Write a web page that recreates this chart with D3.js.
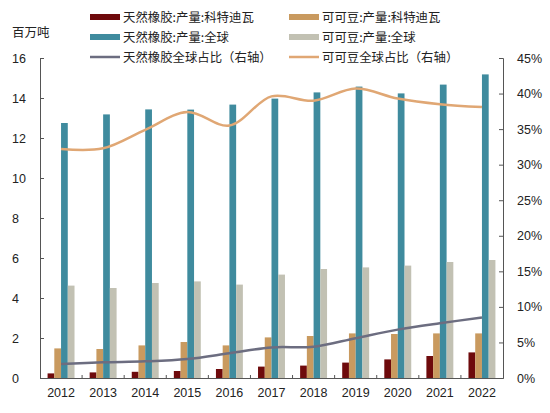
<!DOCTYPE html>
<html>
<head>
<meta charset="utf-8">
<script src="https://cdn.jsdelivr.net/npm/d3@7"></script>
<style>
  body { margin: 0; background: #fff; }
  text { font-family: "Liberation Sans", Arial, "Noto Sans CJK SC", sans-serif; }
</style>
</head>
<body>
<div id="chart"></div>
<script>
// data
var years = ["2012", "2013", "2014", "2015", "2016", "2017", "2018", "2019", "2020", "2021", "2022"];
var rubberCI = [0.23, 0.28, 0.31, 0.35, 0.45, 0.57, 0.62, 0.77, 0.93, 1.1, 1.28];
var cocoaCI = [1.48, 1.45, 1.63, 1.8, 1.63, 2.03, 2.1, 2.23, 2.2, 2.23, 2.23];
var rubberWorld = [12.75, 13.18, 13.43, 13.42, 13.67, 13.97, 14.28, 14.57, 14.23, 14.67, 15.18];
var cocoaWorld = [4.62, 4.5, 4.75, 4.83, 4.67, 5.17, 5.45, 5.53, 5.62, 5.8, 5.9];
var rubberShare = [1.97, 2.2, 2.34, 2.67, 3.47, 4.3, 4.4, 5.6, 6.8, 7.7, 8.5];
var cocoaShare = [32.2, 32.3, 34.9, 37.4, 35.5, 39.6, 39.0, 40.7, 39.3, 38.5, 38.1];
var leftTicks = [0, 2, 4, 6, 8, 10, 12, 14, 16];
var rightTicks = [0, 5, 10, 15, 20, 25, 30, 35, 40, 45];

var barSeries = [
    {name: "天然橡胶:产量:科特迪瓦", values: rubberCI, color: "#6e0a0c"},
    {name: "可可豆:产量:科特迪瓦", values: cocoaCI, color: "#c99a5f"},
    {name: "天然橡胶:产量:全球", values: rubberWorld, color: "#3f8b9e"},
    {name: "可可豆:产量:全球", values: cocoaWorld, color: "#c2c1b3"}
];
var lineSeries = [
    {name: "天然橡胶全球占比（右轴）", values: rubberShare, color: "#6c6d80"},
    {name: "可可豆全球占比（右轴）", values: cocoaShare, color: "#e0a774"}
];

drawChart();

function drawChart() {
    var width = 550, height = 413;
    var plotLeft = 40, plotRight = 503, plotTop = 58, plotBottom = 378;

    var svg = d3.select("#chart")
        .append("svg")
        .attr("width", width)
        .attr("height", height);

    var x = d3.scaleBand()
        .domain(years)
        .range([plotLeft, plotRight])
        .paddingInner(0.36)
        .paddingOuter(0.18);

    var xSub = d3.scaleBand()
        .domain(d3.range(barSeries.length))
        .range([0, x.bandwidth()]);

    var yLeft = d3.scaleLinear().domain([0, 16]).range([plotBottom, plotTop]);
    var yRight = d3.scaleLinear().domain([0, 45]).range([plotBottom, plotTop]);

    var step = x.step();
    function center(d) { return x(d) + x.bandwidth() / 2; }

    // bars
    barSeries.forEach(function (s, si) {
        svg.selectAll(".bar" + si)
            .data(s.values)
            .enter()
            .append("rect")
            .attr("x", function (d, i) { return x(years[i]) + xSub(si); })
            .attr("y", function (d) { return yLeft(d); })
            .attr("width", xSub.bandwidth())
            .attr("height", function (d) { return plotBottom - yLeft(d); })
            .attr("fill", s.color);
    });

    // lines
    lineSeries.forEach(function (s) {
        var line = d3.line()
            .x(function (d, i) { return center(years[i]); })
            .y(function (d) { return yRight(d); })
            .curve(d3.curveCatmullRom.alpha(0.5));
        svg.append("path")
            .datum(s.values)
            .attr("d", line)
            .attr("fill", "none")
            .attr("stroke", s.color)
            .attr("stroke-width", 2.5);
    });

    // axes
    var axisColor = "#555";
    var leftAxis = svg.append("g")
        .attr("transform", "translate(" + plotLeft + ",0)")
        .call(d3.axisLeft(yLeft).tickValues(leftTicks).tickSize(-4).tickPadding(18));
    var rightAxis = svg.append("g")
        .attr("transform", "translate(" + plotRight + ",0)")
        .call(d3.axisRight(yRight).tickValues(rightTicks).tickSize(-4).tickPadding(14)
            .tickFormat(function (d) { return d + "%"; }));
    [leftAxis, rightAxis].forEach(function (g) {
        g.select(".domain").attr("stroke", axisColor);
        g.selectAll(".tick line").attr("stroke", axisColor);
        g.selectAll(".tick text").attr("fill", "#222").style("font-size", "12.5px")
            .attr("font-family", "Liberation Sans, Arial, sans-serif");
    });
    leftAxis.selectAll(".tick text").attr("text-anchor", "start").attr("x", -28);

    var xAxis = svg.append("g")
        .attr("transform", "translate(0," + plotBottom + ")")
        .call(d3.axisBottom(x).tickSize(0).tickPadding(10));
    xAxis.select(".domain").attr("stroke", axisColor);
    xAxis.selectAll(".tick text").attr("fill", "#222").style("font-size", "12.5px")
        .attr("font-family", "Liberation Sans, Arial, sans-serif");
    // small separators between years
    svg.selectAll(".sep")
        .data(years.slice(1))
        .enter()
        .append("line")
        .attr("x1", function (d) { return x(d) - (step - x.bandwidth()) / 2; })
        .attr("x2", function (d) { return x(d) - (step - x.bandwidth()) / 2; })
        .attr("y1", plotBottom)
        .attr("y2", plotBottom - 3)
        .attr("stroke", axisColor);

    // unit label
    svg.append("text")
        .attr("x", 12)
        .attr("y", 37)
        .style("font-size", "12.5px")
        .attr("fill", "#222")
        .style("font-family", "Noto Sans CJK SC, sans-serif")
        .text("百万吨");

    // legend
    var legendItems = [
        {s: barSeries[0], col: 0, row: 0, type: "bar"},
        {s: barSeries[1], col: 1, row: 0, type: "bar"},
        {s: barSeries[2], col: 0, row: 1, type: "bar"},
        {s: barSeries[3], col: 1, row: 1, type: "bar"},
        {s: lineSeries[0], col: 0, row: 2, type: "line"},
        {s: lineSeries[1], col: 1, row: 2, type: "line"}
    ];
    var legend = svg.selectAll(".legend")
        .data(legendItems)
        .enter()
        .append("g")
        .attr("transform", function (d) {
            return "translate(" + (d.col === 0 ? 90 : 289) + "," + (17 + d.row * 20) + ")";
        });
    legend.each(function (d) {
        var g = d3.select(this);
        if (d.type === "bar") {
            g.append("rect").attr("x", 0).attr("y", -3).attr("width", 30).attr("height", 6).attr("fill", d.s.color);
        } else {
            g.append("line").attr("x1", 0).attr("x2", 30).attr("y1", 0).attr("y2", 0)
                .attr("stroke", d.s.color).attr("stroke-width", 2.5);
        }
        g.append("text")
            .attr("x", 33)
            .attr("y", 5)
            .style("font-size", "12.4px")
            .attr("fill", "#222")
            .style("font-family", "Noto Sans CJK SC, sans-serif")
            .text(d.s.name);
    });
}
</script>
</body>
</html>
